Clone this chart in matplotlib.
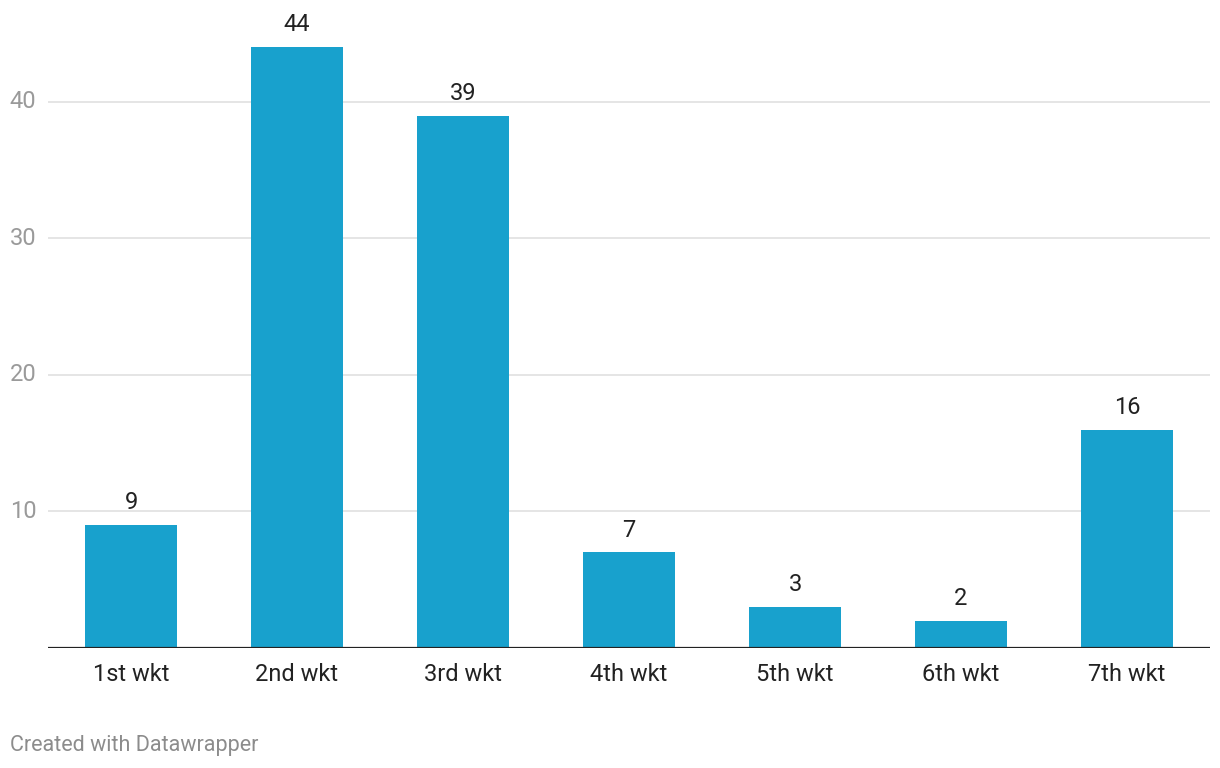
import matplotlib.pyplot as plt

categories = ['1st wkt', '2nd wkt', '3rd wkt', '4th wkt', '5th wkt', '6th wkt', '7th wkt']
values = [9, 44, 39, 7, 3, 2, 16]
y_ticks = [10, 20, 30, 40]

BAR_COLOR = '#18a1cd'
plt.rcParams['font.family'] = ['Roboto', 'DejaVu Sans']

W, H = 1220, 768
fig = plt.figure(figsize=(W / 100, H / 100), dpi=100)
# axes in pixel terms: left 48, right 1210, bottom 648, top 20
ax = fig.add_axes([48 / W, (H - 648) / H, (1210 - 48) / W, (648 - 20) / H])

x = range(len(categories))
ax.bar(x, values, width=0.56, color=BAR_COLOR, zorder=3)

for xi, v in zip(x, values):
    ax.text(xi, v + 0.8, str(v), ha='center', va='bottom', fontsize=17, color='#222222')

ax.set_xlim(-0.5, 6.5)
ax.set_ylim(0, 46)

# gridlines and y labels in Datawrapper style
for t in y_ticks:
    ax.axhline(t, color='#e3e3e3', linewidth=1.3, zorder=1)
    ax.text(-0.01, t, str(t), transform=ax.get_yaxis_transform(),
            ha='right', va='center', fontsize=17, color='#9a9a9a')
ax.axhline(0, color='#222222', linewidth=1.6, zorder=4)

ax.set_xticks(list(x))
ax.set_xticklabels(categories, fontsize=17, color='#222222')
ax.tick_params(axis='x', length=0, pad=11)
ax.set_yticks([])
for s in ax.spines.values():
    s.set_visible(False)

fig.text(10 / W, 1 - 745 / H, 'Created with Datawrapper', ha='left', va='center',
         fontsize=15.5, color='#8c8c8c')

fig.savefig('out.png', dpi=100)
